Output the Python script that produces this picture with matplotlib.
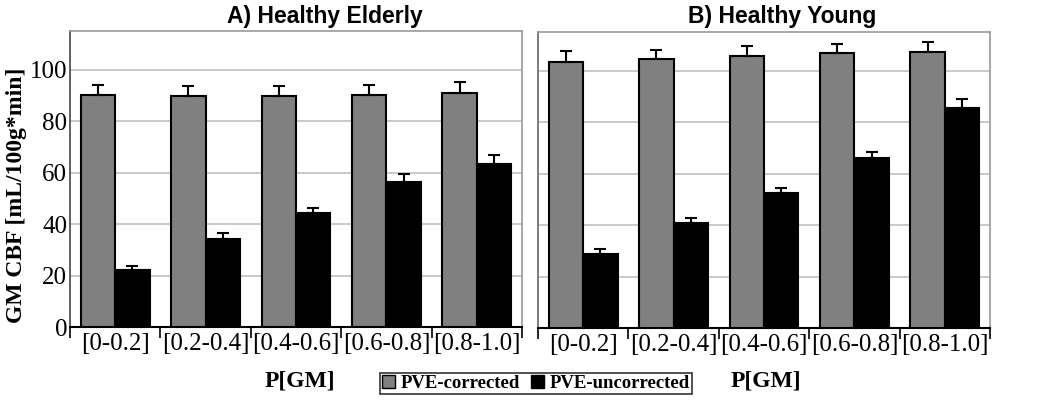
import matplotlib
matplotlib.use("Agg")
import matplotlib.pyplot as plt
import numpy as np
from matplotlib.patches import Patch

categories = ["[0-0.2]", "[0.2-0.4]", "[0.4-0.6]", "[0.6-0.8]", "[0.8-1.0]"]
elderly_corr = [90.3, 89.8, 89.8, 90.3, 91.1]
elderly_corr_err = [3.9, 3.9, 3.9, 3.9, 4.0]
elderly_unc = [22.2, 34.3, 44.4, 56.5, 63.5]
elderly_unc_err = [1.5, 2.1, 1.9, 3.0, 3.2]
young_corr = [103.5, 104.4, 105.8, 106.7, 107.4]
young_corr_err = [4.0, 3.5, 3.9, 3.8, 3.6]
young_unc = [28.6, 40.9, 52.4, 65.9, 85.4]
young_unc_err = [2.2, 2.0, 2.0, 2.4, 3.4]

serif = "Liberation Serif"
sans = "Liberation Sans"
GRAY = "#808080"

fig = plt.figure(figsize=(10.5, 4.04), dpi=100)
axA = fig.add_axes([70/1050, 1-327/404, (522-70)/1050, (327-31)/404])
axB = fig.add_axes([538/1050, 1-328/404, (990-538)/1050, (328-32)/404])

x = np.arange(len(categories))
w = 0.38

def draw(ax, corr, corr_err, unc, unc_err, show_y):
    ax.bar(x - w/2, corr, w, color=GRAY, edgecolor="black", linewidth=1.5, zorder=3)
    ax.bar(x + w/2, unc, w, color="black", edgecolor="black", linewidth=1.5, zorder=3)
    ax.errorbar(x - w/2, corr, yerr=[np.zeros(len(corr)), corr_err], fmt="none",
                ecolor="black", elinewidth=1.5, capsize=4, capthick=1.5, zorder=4)
    ax.errorbar(x + w/2, unc, yerr=[np.zeros(len(unc)), unc_err], fmt="none",
                ecolor="black", elinewidth=1.5, capsize=4, capthick=1.5, zorder=4)
    ax.set_xlim(-0.5, len(categories) - 0.5)
    ax.set_ylim(0, 115)
    ax.set_yticks([0, 20, 40, 60, 80, 100])
    ax.yaxis.grid(True, color="#c0c0c0", linewidth=1.2, zorder=0)
    ax.set_axisbelow(True)
    ax.set_xticks(x)
    ax.set_xticklabels(categories, fontfamily=serif, fontsize=18)
    ax.set_xticks(np.arange(len(categories) + 1) - 0.5, minor=True)
    ax.tick_params(axis="x", which="major", length=0, pad=4)
    ax.tick_params(axis="x", which="minor", length=8, width=1.2, direction="out", color="black")
    ax.tick_params(axis="y", length=0, pad=2)
    if show_y:
        for lbl in ax.get_yticklabels():
            lbl.set_fontfamily(serif)
            lbl.set_fontsize(18)
    else:
        ax.set_yticklabels([])
    for s in ["top", "right"]:
        ax.spines[s].set_color("#999999")
        ax.spines[s].set_linewidth(1.2)
    ax.spines["left"].set_color("#444444" if show_y else "#666666")
    ax.spines["left"].set_linewidth(1.2)
    ax.spines["bottom"].set_color("black")
    ax.spines["bottom"].set_linewidth(1.5)

draw(axA, elderly_corr, elderly_corr_err, elderly_unc, elderly_unc_err, True)
draw(axB, young_corr, young_corr_err, young_unc, young_unc_err, False)

fig.text(325/1050, 1-16/404, "A) Healthy Elderly", ha="center", va="center",
         fontfamily=sans, fontweight="bold", fontsize=16.5)
fig.text(782/1050, 1-16/404, "B) Healthy Young", ha="center", va="center",
         fontfamily=sans, fontweight="bold", fontsize=16.5)
fig.text(300/1050, 1-381/404, "P[GM]", ha="center", va="center",
         fontfamily=serif, fontweight="bold", fontsize=17)
fig.text(766/1050, 1-381/404, "P[GM]", ha="center", va="center",
         fontfamily=serif, fontweight="bold", fontsize=17)
fig.text(17/1050, 1-195/404, "GM CBF [mL/100g*min]", ha="center", va="center",
         rotation=90, fontfamily=serif, fontweight="bold", fontsize=17)

handles = [Patch(facecolor=GRAY, edgecolor="black", linewidth=1.0),
           Patch(facecolor="black", edgecolor="black", linewidth=1.0)]
leg = fig.legend(handles, ["PVE-corrected", "PVE-uncorrected"], loc="center",
                 bbox_to_anchor=(536/1050, 1-383.5/404), ncol=2, frameon=True,
                 prop={"family": serif, "weight": "bold", "size": 13.5},
                 handlelength=0.7, handleheight=0.7, handletextpad=0.3,
                 columnspacing=0.6, borderpad=0.12, fancybox=False, borderaxespad=0)
leg.get_frame().set_edgecolor("black")
leg.get_frame().set_linewidth(1.2)

fig.savefig("out.png", dpi=100)
